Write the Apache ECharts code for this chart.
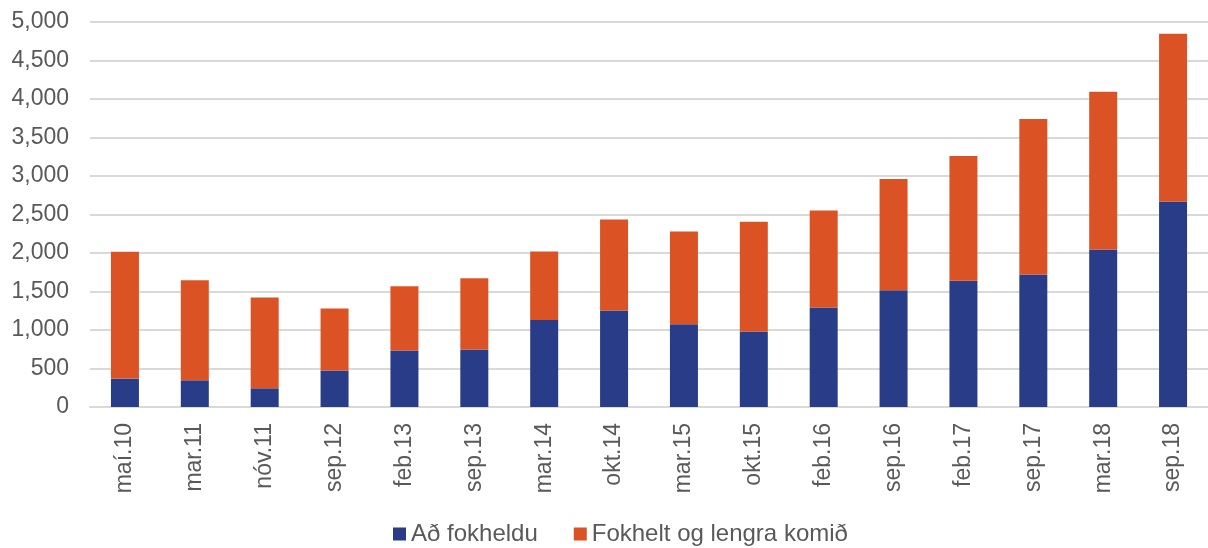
<!DOCTYPE html>
<html>
<head>
<meta charset="utf-8">
<script src="https://cdn.jsdelivr.net/npm/echarts@6/dist/echarts.min.js"></script>
<style>
html, body { margin: 0; padding: 0; background: #fff; }
#chart { width: 1208px; height: 548px; }
</style>
</head>
<body>
<div id="chart"></div>
<script>
// categories (dates) and the two stacked series
var categories = ['maí.10', 'mar.11', 'nóv.11', 'sep.12', 'feb.13', 'sep.13', 'mar.14', 'okt.14',
    'mar.15', 'okt.15', 'feb.16', 'sep.16', 'feb.17', 'sep.17', 'mar.18', 'sep.18'];
var adFokheldu = [369, 347, 243, 473, 733, 746, 1131, 1253, 1075, 980, 1292, 1517, 1638, 1721, 2046, 2670];
var fokheltOgLengra = [1646, 1300, 1179, 806, 836, 927, 889, 1183, 1205, 1425, 1261, 1443, 1621, 2019, 2049, 2179];
var seriesNames = ['Að fokheldu', 'Fokhelt og lengra komið'];

var chart = echarts.init(document.getElementById('chart'));
var textColor = '#595959';
var font = 'Liberation Sans, Arial, sans-serif';

chart.setOption({
    animation: false,
    textStyle: { fontFamily: font },
    color: ['#293c88', '#db5325'],
    grid: {
        left: 90,
        right: 0,
        top: 22,
        bottom: 141
    },
    legend: {
        data: seriesNames,
        top: 517,
        left: 388,
        itemWidth: 13,
        itemHeight: 13,
        itemGap: 36,
        icon: 'rect',
        textStyle: { color: textColor, fontSize: 24, fontFamily: font }
    },
    xAxis: {
        type: 'category',
        data: categories,
        axisLine: { lineStyle: { color: '#d9d9d9', width: 2 } },
        axisTick: { show: false },
        axisLabel: {
            rotate: 90,
            margin: 16,
            color: textColor,
            fontSize: 23,
            fontFamily: font,
            interval: 0
        }
    },
    yAxis: {
        type: 'value',
        min: 0,
        max: 5000,
        interval: 500,
        axisLine: { show: false },
        axisTick: { show: false },
        splitLine: { lineStyle: { color: '#d9d9d9', width: 2 } },
        axisLabel: {
            margin: 21,
            color: textColor,
            fontSize: 23,
            fontFamily: font,
            formatter: function (v) {
                return v.toLocaleString('en-US');
            }
        }
    },
    series: [
        {
            name: seriesNames[0],
            type: 'bar',
            stack: 'total',
            barWidth: 28,
            data: adFokheldu
        },
        {
            name: seriesNames[1],
            type: 'bar',
            stack: 'total',
            barWidth: 28,
            data: fokheltOgLengra
        }
    ]
});
</script>
</body>
</html>
